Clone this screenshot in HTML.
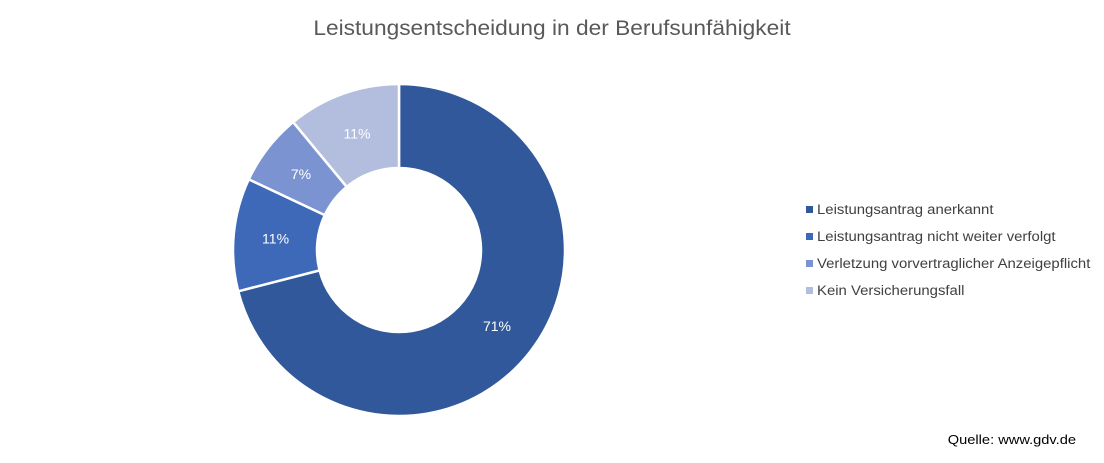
<!DOCTYPE html>
<html><head><meta charset="utf-8"><style>
body{margin:0;background:#fff;width:1104px;height:458px;overflow:hidden;font-family:"Liberation Sans",sans-serif;}
</style></head><body>
<svg width="1104" height="458">
<text id="title" x="552" y="35" text-anchor="middle" font-size="21" fill="#595959">Leistungsentscheidung in der Berufsunfähigkeit</text>
<g id="donut"></g>
<g id="legend"></g>
<text id="src" x="1076" y="444" text-anchor="end" font-size="13" fill="#000">Quelle: www.gdv.de</text>
</svg>
<script>
const categories=["Leistungsantrag anerkannt","Leistungsantrag nicht weiter verfolgt","Verletzung vorvertraglicher Anzeigepflicht","Kein Versicherungsfall"];
const values=[71,11,7,11];
const labels=["71%","11%","7%","11%"];
const colors=["#30589a","#3e69b8","#7b93d0","#b3bedf"];
const NS="http://www.w3.org/2000/svg";
const cx=399,cy=250,R=166,r=82;
const total=values.reduce((a,b)=>a+b,0);
const g=document.getElementById('donut');
function pt(a,rad){return [cx+rad*Math.sin(a),cy-rad*Math.cos(a)];}
function stretch(el,f){const w=el.getComputedTextLength();el.setAttribute('textLength',w*f);el.setAttribute('lengthAdjust','spacingAndGlyphs');}
stretch(document.getElementById('title'),477/(420*21/20));
stretch(document.getElementById('src'),128/(105*13/12));
let acc=0;
values.forEach((v,i)=>{
  const a0=acc/total*2*Math.PI, a1=(acc+v)/total*2*Math.PI; acc+=v;
  const large=(a1-a0)>Math.PI?1:0;
  const [x0,y0]=pt(a0,R),[x1,y1]=pt(a1,R),[x2,y2]=pt(a1,r),[x3,y3]=pt(a0,r);
  const p=document.createElementNS(NS,'path');
  p.setAttribute('d',`M${x0},${y0}A${R},${R} 0 ${large} 1 ${x1},${y1}L${x2},${y2}A${r},${r} 0 ${large} 0 ${x3},${y3}Z`);
  p.setAttribute('fill',colors[i]);p.setAttribute('stroke','#fff');p.setAttribute('stroke-width','2.5');
  
  
  g.appendChild(p);
  const am=(a0+a1)/2,[lx,ly]=pt(am,(R+r)/2);
  const t=document.createElementNS(NS,'text');
  t.setAttribute('x',lx);t.setAttribute('y',ly+5);t.setAttribute('text-anchor','middle');
  t.setAttribute('font-size','14');t.setAttribute('fill','#fff');t.textContent=labels[i];
  
  
  g.appendChild(t);
});
const lg=document.getElementById('legend');
categories.forEach((c,i)=>{
  const y=210+i*27;
  const s=document.createElementNS(NS,'rect');
  s.setAttribute('x',806);s.setAttribute('y',y-4);s.setAttribute('width',7);s.setAttribute('height',7);s.setAttribute('fill',colors[i]);
  
  
  lg.appendChild(s);
  const t=document.createElementNS(NS,'text');
  t.setAttribute('x',817);t.setAttribute('y',y+4);t.setAttribute('font-size','13.5');t.setAttribute('fill','#404040');t.textContent=c;
  
  
  lg.appendChild(t);
  stretch(t,273/(229*13.5/12.5));
});
</script>
</body></html>
